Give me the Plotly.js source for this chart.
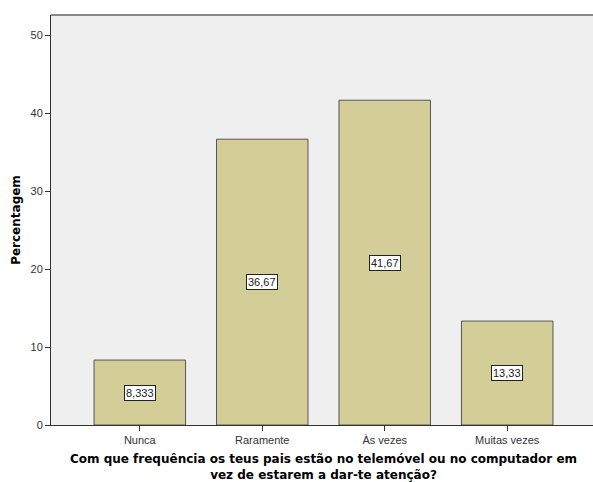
<!DOCTYPE html>
<html><head><meta charset="utf-8">
<script src="https://cdn.plot.ly/plotly-3.0.1.min.js"></script>
<style>html,body{margin:0;padding:0;overflow:hidden;background:#fff;}</style>
</head><body>
<div id="chart" style="width:600px;height:482px;"></div>
<script>
const categories = ["Nunca", "Raramente", "Às vezes", "Muitas vezes"];
const values = [8.333, 36.667, 41.667, 13.333];
const valueLabels = ["8,333", "36,67", "41,67", "13,33"];
const yTicks = [0, 10, 20, 30, 40, 50];

const trace = {
  type: "bar",
  x: categories,
  y: values,
  width: 0.747,
  marker: {color: "#d3ce98", line: {color: "#555555", width: 1}},
  hoverinfo: "none"
};

const annotations = categories.map((c, i) => ({
  x: c, y: values[i] / 2, xref: "x", yref: "y",
  text: valueLabels[i], showarrow: false,
  bgcolor: "#ffffff", bordercolor: "#222222", borderwidth: 1, borderpad: 1,
  font: {family: "Liberation Sans, Arial", size: 11, color: "#222222"}
}));

const layout = {
  width: 600, height: 482,
  margin: {l: 51, r: 4, t: 15, b: 57},
  paper_bgcolor: "#ffffff",
  plot_bgcolor: "#efefef",
  showlegend: false,
  xaxis: {
    range: [-0.725, 3.725],
    showgrid: false, zeroline: false,
    showline: true, linecolor: "#333333", linewidth: 1,
    ticks: "outside", ticklen: 5, tickcolor: "#333333",
    tickfont: {family: "Liberation Sans, Arial", size: 11, color: "#333333"},
    title: {
      text: "<b>Com que frequência os teus pais estão no telemóvel ou no computador em<br>vez de estarem a dar-te atenção?</b>",
      font: {family: "DejaVu Sans", size: 12, color: "#000000"},
      standoff: 13
    }
  },
  yaxis: {
    range: [0, 52.6],
    tickvals: yTicks,
    showgrid: false, zeroline: false,
    showline: true, linecolor: "#333333", linewidth: 1,
    ticks: "outside", ticklen: 5, tickcolor: "#333333",
    tickfont: {family: "Liberation Sans, Arial", size: 11, color: "#333333"},
    title: {
      text: "<b>Percentagem</b>",
      font: {family: "DejaVu Sans", size: 12, color: "#000000"},
      standoff: 7
    }
  },
  shapes: [{
    type: "line", xref: "paper", yref: "paper",
    x0: 0, x1: 1, y0: 1, y1: 1,
    line: {color: "#888888", width: 2}
  }],
  annotations: annotations
};

Plotly.newPlot("chart", [trace], layout, {displayModeBar: false, staticPlot: true});
</script>
</body></html>
